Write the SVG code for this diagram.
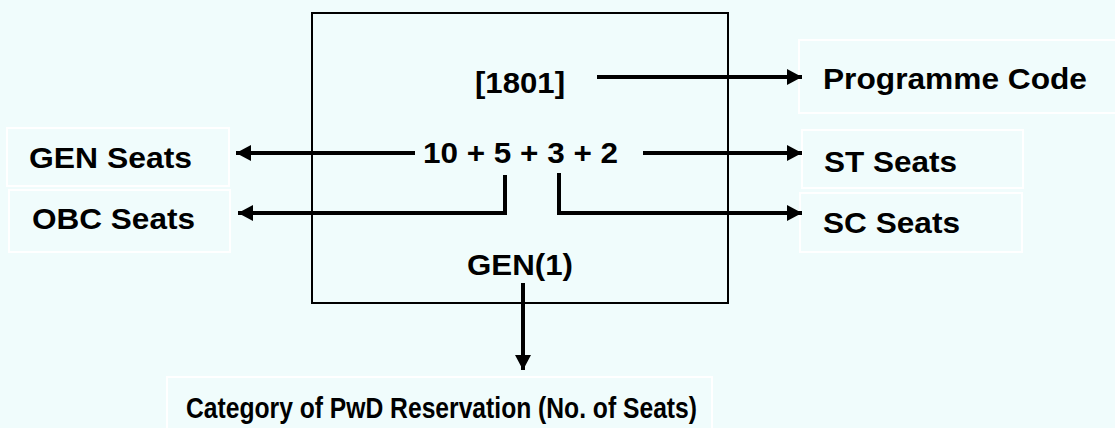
<svg xmlns="http://www.w3.org/2000/svg" width="1115" height="428" viewBox="0 0 1115 428">
<style>
.lbl{fill:none;stroke:#ffffff;stroke-width:2}
.t{font-family:"Liberation Sans",Arial,sans-serif;font-weight:bold;font-size:30px;fill:#000}
.c{fill:none;stroke:#000;stroke-width:4}
</style>
<defs>
<marker id="ah" markerUnits="userSpaceOnUse" markerWidth="16" markerHeight="16" refX="15" refY="8" orient="auto">
<path d="M0,0 L15,8 L0,16 z" fill="#000"/>
</marker>
</defs>
<rect width="1115" height="428" fill="#F0FCFC"/>
<g id="main-box">
<rect x="312" y="13" width="416" height="290" fill="none" stroke="#000" stroke-width="2"/>
<text class="t" x="475" y="93" textLength="90" lengthAdjust="spacingAndGlyphs">[1801]</text>
<text class="t" x="423" y="163" textLength="195" lengthAdjust="spacingAndGlyphs">10 + 5 + 3 + 2</text>
<text class="t" x="467" y="275" textLength="106" lengthAdjust="spacingAndGlyphs">GEN(1)</text>
</g>
<g id="gen-seats">
<rect class="lbl" x="7" y="128" width="222" height="58"/>
<text class="t" x="29" y="168" textLength="163" lengthAdjust="spacingAndGlyphs">GEN Seats</text>
</g>
<g id="obc-seats">
<rect class="lbl" x="9" y="190" width="221" height="62"/>
<text class="t" x="32" y="229" textLength="163" lengthAdjust="spacingAndGlyphs">OBC Seats</text>
</g>
<g id="programme-code">
<rect class="lbl" x="799" y="40" width="330" height="73"/>
<text class="t" x="823" y="89" textLength="264" lengthAdjust="spacingAndGlyphs">Programme Code</text>
</g>
<g id="st-seats">
<rect class="lbl" x="802" y="130" width="221" height="58"/>
<text class="t" x="824" y="172" textLength="133" lengthAdjust="spacingAndGlyphs">ST Seats</text>
</g>
<g id="sc-seats">
<rect class="lbl" x="800" y="193" width="222" height="59"/>
<text class="t" x="823" y="233" textLength="137" lengthAdjust="spacingAndGlyphs">SC Seats</text>
</g>
<g id="pwd-category">
<rect class="lbl" x="167" y="377" width="545" height="63"/>
<text class="t" x="186" y="418" style="font-size:29px" textLength="511" lengthAdjust="spacingAndGlyphs">Category of PwD Reservation (No. of Seats)</text>
</g>
<g id="connectors">
<line class="c" x1="597" y1="77" x2="802" y2="77" marker-end="url(#ah)"/>
<line class="c" x1="415" y1="153" x2="236" y2="153" marker-end="url(#ah)"/>
<line class="c" x1="643" y1="153" x2="802" y2="153" marker-end="url(#ah)"/>
<path class="c" d="M505,175 V213 H238" marker-end="url(#ah)"/>
<path class="c" d="M559,173 V213 H802" marker-end="url(#ah)"/>
<line class="c" x1="523" y1="283" x2="523" y2="370" marker-end="url(#ah)"/>
</g>
</svg>
